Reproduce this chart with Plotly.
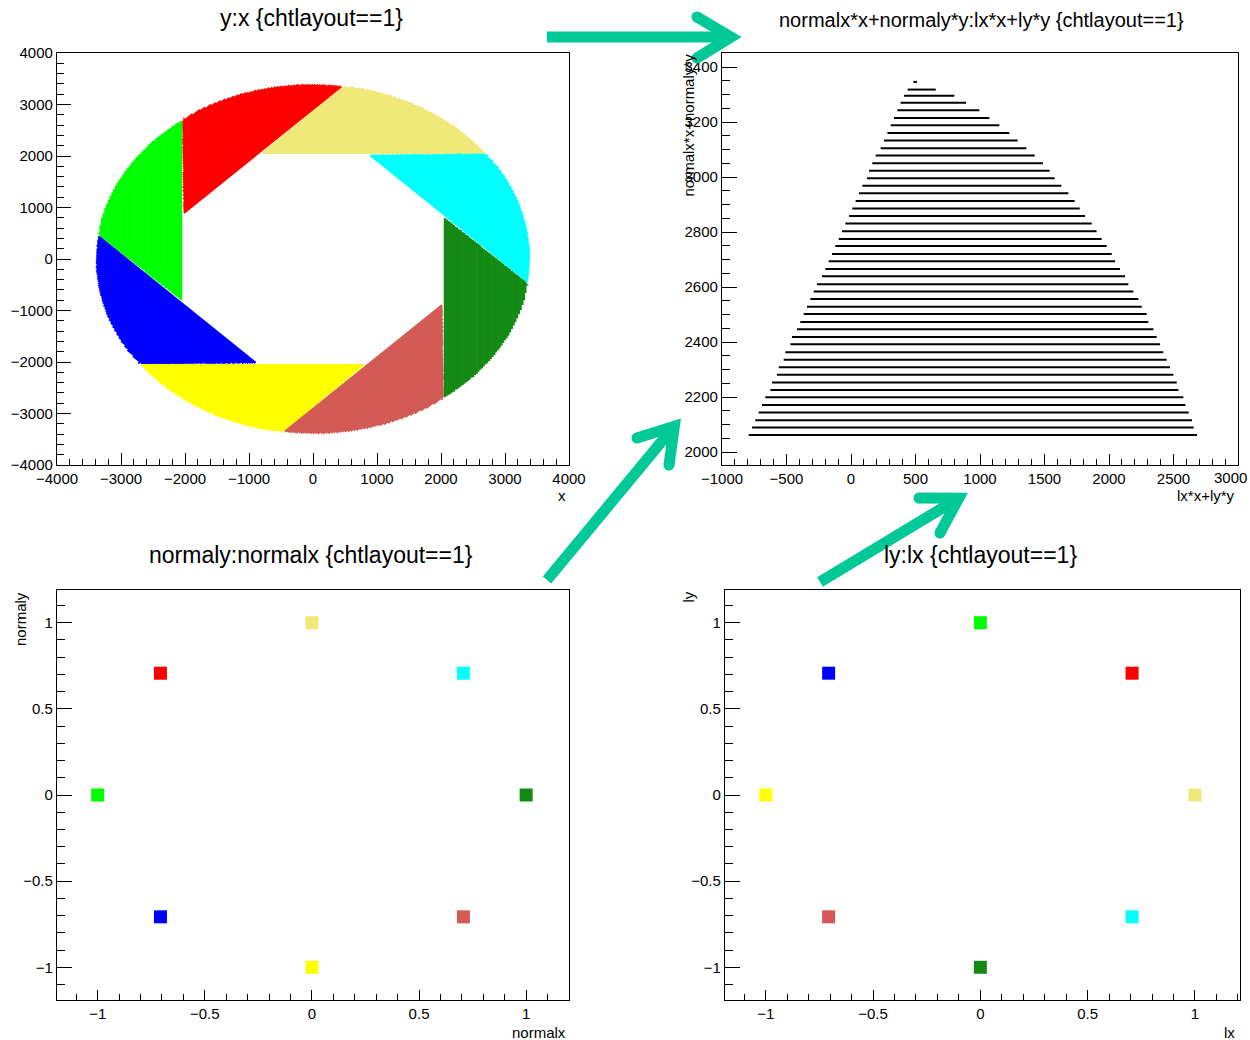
import math
import plotly.graph_objects as go

# ---------------- data ----------------
seg_colors = ["#F0E878", "#FF0000", "#00FF00", "#0000FF", "#FFFF00", "#D35A55", "#138A13", "#00FFFF"]
normalx = [0.0, -0.7071, -1.0, -0.7071, 0.0, 0.7071, 1.0, 0.7071]
normaly = [1.0, 0.7071, 0.0, -0.7071, -1.0, -0.7071, 0.0, 0.7071]
lx = [1.0, 0.7071, 0.0, -0.7071, -1.0, -0.7071, 0.0, 0.7071]
ly = [0.0, 0.7071, 1.0, 0.7071, 0.0, -0.7071, -1.0, -0.7071]

# layer distance (normalx*x+normaly*y) and its extent along the layer (lx*x+ly*y)
layer_d = [3346, 3318, 3296, 3270, 3243, 3215, 3188, 3160, 3133, 3105, 3078, 3050, 3023, 2996, 2968,
           2941, 2913, 2886, 2858, 2831, 2803, 2775, 2749, 2720, 2694, 2666, 2639, 2610, 2584, 2557,
           2528, 2502, 2473, 2447, 2418, 2392, 2363, 2336, 2308, 2281, 2253, 2226, 2199, 2171, 2144,
           2116, 2089, 2062]
layer_tmin = [483, 439, 411, 385, 359, 333, 308, 282, 256, 230, 191, 165, 140, 124, 88,
              62, 36, 10, -15, -44, -70, -95, -122, -147, -173, -199, -225, -264, -289, -315,
              -341, -367, -393, -419, -457, -470, -509, -522, -560, -574, -612, -625, -664, -690, -716,
              -742, -767, -793]
layer_tmax = [512, 657, 801, 892, 995, 1072, 1150, 1227, 1292, 1359, 1424, 1488, 1540, 1579, 1630,
              1685, 1734, 1773, 1814, 1866, 1904, 1943, 1982, 2021, 2047, 2085, 2124, 2150, 2189, 2228,
              2254, 2292, 2305, 2344, 2370, 2395, 2421, 2447, 2473, 2499, 2525, 2538, 2576, 2592, 2618,
              2643, 2656, 2682]

titles = ["y:x {chtlayout==1}", "normalx*x+normaly*y:lx*x+ly*y {chtlayout==1}",
          "normaly:normalx {chtlayout==1}", "ly:lx {chtlayout==1}"]

# ---------------- figure ----------------
W, H = 1250, 1040
FONT = "Liberation Sans, Arial, Helvetica, sans-serif"


def px(x):
    return x / W


def py(y):
    return 1 - y / H


fig = go.Figure()

# top-left: y vs x, one colour per segment
for i in range(8):
    xs, ys = [], []
    for d, a, b in zip(layer_d, layer_tmin, layer_tmax):
        for t in (a, b):
            xs.append(d * normalx[i] + t * lx[i])
            ys.append(d * normaly[i] + t * ly[i])
        xs.append(None)
        ys.append(None)
    fig.add_trace(go.Scatter(x=xs, y=ys, mode="lines", line=dict(color=seg_colors[i], width=2.4),
                             xaxis="x", yaxis="y", showlegend=False, hoverinfo="skip"))

# top-right: normal*pos vs l*pos
xs, ys = [], []
for d, a, b in zip(layer_d, layer_tmin, layer_tmax):
    xs += [a, b, None]
    ys += [d, d, None]
fig.add_trace(go.Scatter(x=xs, y=ys, mode="lines", line=dict(color="black", width=2),
                         xaxis="x2", yaxis="y2", showlegend=False, hoverinfo="skip"))

# bottom-left: normaly vs normalx
fig.add_trace(go.Scatter(x=normalx, y=normaly, mode="markers",
                         marker=dict(symbol="square", size=13, color=seg_colors, line=dict(width=0)),
                         xaxis="x3", yaxis="y3", showlegend=False))
# bottom-right: ly vs lx
fig.add_trace(go.Scatter(x=lx, y=ly, mode="markers",
                         marker=dict(symbol="square", size=13, color=seg_colors, line=dict(width=0)),
                         xaxis="x4", yaxis="y4", showlegend=False))


def axis(domain, rng, dtick, mdtick, tl, mtl, anchor):
    return dict(domain=domain, range=rng, anchor=anchor, showline=True, mirror=True,
                linecolor="black", linewidth=1.2, ticks="inside", ticklen=tl, tickwidth=1.2,
                tickcolor="black", dtick=dtick, tick0=0, showgrid=False, zeroline=False,
                automargin=False,
                tickfont=dict(family=FONT, size=15, color="black"),
                minor=dict(dtick=mdtick, tick0=0, ticks="inside", ticklen=mtl, tickcolor="black",
                           tickwidth=1.2, showgrid=False),
                fixedrange=True)


top_y = [py(465), py(53)]
bot_y = [py(1000), py(590)]

fig.update_layout(
    width=W, height=H, margin=dict(l=0, r=0, t=0, b=0, pad=0), autosize=False,
    paper_bgcolor="white", plot_bgcolor="white", showlegend=False,
    xaxis=axis([px(57), px(569)], [-4000, 4000], 1000, 200, 12, 6, "y"),
    yaxis=axis(top_y, [-4000, 4000], 1000, 200, 14, 7, "x"),
    xaxis2=axis([px(722), px(1238)], [-1000, 3000], 500, 100, 11, 6, "y2"),
    yaxis2=axis(top_y, [1953, 3451], 200, 50, 15, 8, "x2"),
    xaxis3=axis([px(57), px(569)], [-1.19, 1.2], 0.5, 0.1, 10, 6, "y3"),
    yaxis3=axis(bot_y, [-1.19, 1.19], 0.5, 0.1, 15, 8, "x3"),
    xaxis4=axis([px(725), px(1240)], [-1.19, 1.21], 0.5, 0.1, 10, 6, "y4"),
    yaxis4=axis(bot_y, [-1.19, 1.19], 0.5, 0.1, 15, 8, "x4"),
)

ann = []
# panel titles
for txt, cx, cy, sz in [(titles[0], 311, 18, 23), (titles[1], 981, 20, 20),
                        (titles[2], 311, 555, 23), (titles[3], 980, 555, 23)]:
    ann.append(dict(text=txt, x=px(cx), y=py(cy), xref="paper", yref="paper", showarrow=False,
                    xanchor="center", yanchor="middle", font=dict(family=FONT, size=sz, color="black")))
# x-axis titles (right aligned)
for txt, rx, cy in [("x", 568, 495), ("lx*x+ly*y", 1237, 495), ("normalx", 568, 1032), ("lx", 1237, 1032)]:
    ann.append(dict(text=txt, x=px(rx), y=py(cy), xref="paper", yref="paper", showarrow=False,
                    xanchor="right", yanchor="middle", font=dict(family=FONT, size=15, color="black")))
# y-axis titles (rotated, top aligned)
for txt, cx, ty in [("normalx*x+normaly*y", 688, 52), ("normaly", 20, 590), ("ly", 688, 590)]:
    ann.append(dict(text=txt, x=px(cx), y=py(ty), xref="paper", yref="paper", showarrow=False,
                    textangle=-90, xanchor="center", yanchor="top",
                    font=dict(family=FONT, size=15, color="black")))
# last tick label of the top-right x axis (kept inside the page edge)
ann.append(dict(text="3000", x=px(1249), y=py(478), xref="paper", yref="paper", showarrow=False,
                xanchor="right", yanchor="middle", font=dict(family=FONT, size=15, color="black")))
fig.update_layout(annotations=ann)

# decorative arrows
ACOL = "rgb(0,200,150)"
AW = 11
shapes = []


def add_arrow(tail, tip, arm1, arm2):
    dx, dy = tip[0] - tail[0], tip[1] - tail[1]
    L = math.hypot(dx, dy)
    ux, uy = dx / L, dy / L
    v = (tip[0] - 12 * ux, tip[1] - 12 * uy)
    shapes.append(dict(type="line", xref="paper", yref="paper", x0=px(tail[0]), y0=py(tail[1]),
                       x1=px(v[0] - 3 * ux), y1=py(v[1] - 3 * uy), line=dict(color=ACOL, width=AW)))
    path = "M %f %f L %f %f L %f %f" % (px(arm1[0]), py(arm1[1]), px(v[0]), py(v[1]), px(arm2[0]), py(arm2[1]))
    shapes.append(dict(type="path", xref="paper", yref="paper", path=path,
                       line=dict(color=ACOL, width=AW), fillcolor="rgba(0,0,0,0)"))
    r = AW / 2
    for (ex, ey) in (arm1, arm2):
        shapes.append(dict(type="circle", xref="paper", yref="paper",
                           x0=px(ex - r), x1=px(ex + r), y0=py(ey + r), y1=py(ey - r),
                           fillcolor=ACOL, line=dict(width=0)))


add_arrow((547, 37), (743, 37), (697, 17), (697, 58))
add_arrow((547, 580), (682, 417), (637, 438), (669, 465))
add_arrow((820, 582), (969, 492), (919, 498), (940, 533))
fig.update_layout(shapes=shapes)

fig.write_html("out.html")
